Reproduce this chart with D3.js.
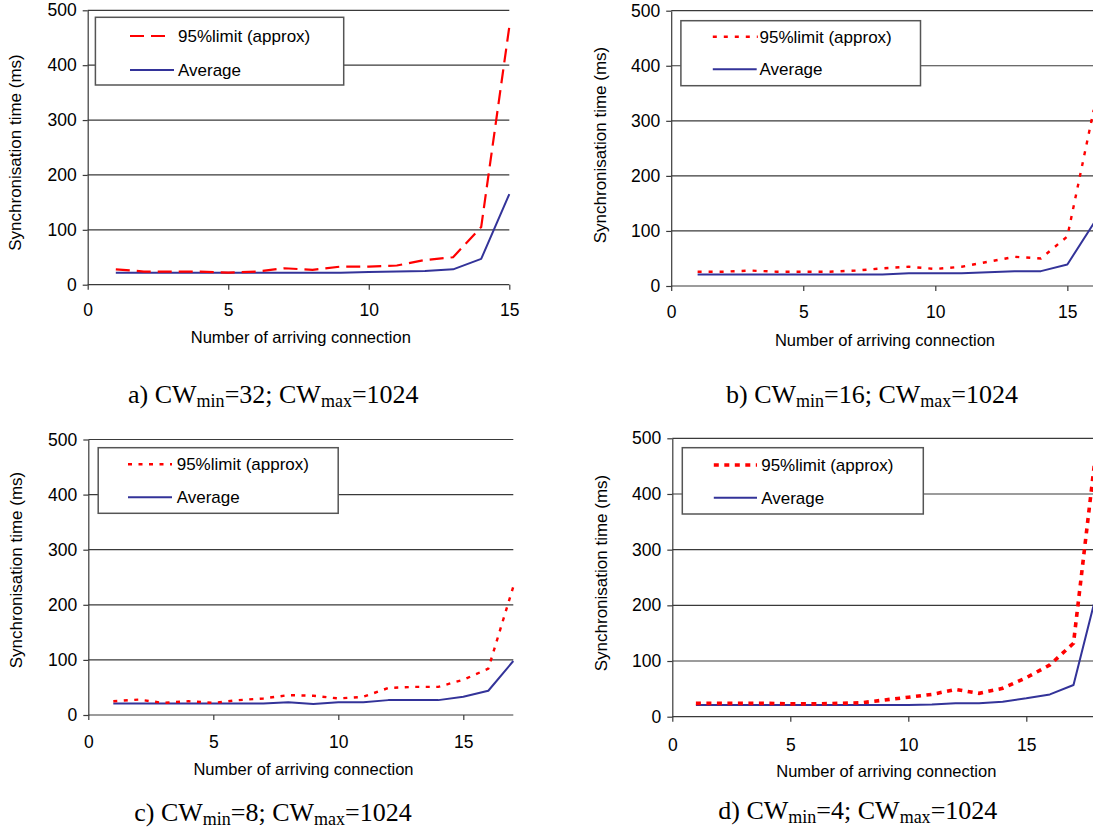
<!DOCTYPE html>
<html>
<head>
<meta charset="utf-8">
<script src="https://cdn.jsdelivr.net/npm/d3@7/dist/d3.min.js"></script>
<style>
  body { margin: 0; background: #fff; }
  svg { display: block; }
  .sans { font-family: 'Liberation Sans', Arial, sans-serif; fill: #000; }
  .caption { font-family: 'Liberation Serif', 'Times New Roman', serif; fill: #000; }
</style>
</head>
<body>
<svg id="chart" width="1093" height="830"></svg>
<script>
// number of arriving connection (x) per panel
const connA = [1, 2, 3, 4, 5, 6, 7, 8, 9, 10, 11, 12, 13, 14, 15];
const connB = [1, 2, 3, 4, 5, 6, 7, 8, 9, 10, 11, 12, 13, 14, 15, 16];
const connC = [1, 2, 3, 4, 5, 6, 7, 8, 9, 10, 11, 12, 13, 14, 15, 16, 17];
const connD = [1, 2, 3, 4, 5, 6, 7, 8, 9, 10, 11, 12, 13, 14, 15, 16, 17, 18];

// synchronisation time (ms)
const limitA = [28, 24, 24, 24, 22, 24, 30, 27, 33, 33, 35, 45, 50, 105, 470];
const avgA   = [22, 22, 22, 22, 22, 22, 22, 22, 22, 23, 24, 25, 28, 47, 165];
const limitB = [26, 26, 28, 26, 26, 26, 28, 32, 35, 31, 35, 44, 53, 50, 90, 320];
const avgB   = [21, 21, 21, 21, 21, 21, 21, 21, 23, 23, 23, 25, 27, 27, 39, 114];
const limitC = [25, 28, 22, 25, 22, 27, 30, 36, 35, 30, 33, 49, 51, 51, 64, 84, 233];
const avgC   = [21, 21, 21, 21, 21, 21, 21, 23, 20, 23, 23, 27, 27, 27, 33, 44, 98];
const limitD = [24, 24, 24, 24, 23, 23, 24, 25, 30, 35, 40, 49, 42, 51, 70, 93, 132, 495];
const avgD   = [21, 21, 21, 21, 21, 21, 21, 21, 21, 21, 22, 24, 24, 27, 33, 40, 57, 225];

const yTicks = [0, 100, 200, 300, 400, 500];
const xTicks = [0, 5, 10, 15];
const seriesNames = ['95%limit (approx)', 'Average'];
const captionLabels = ['a)', 'b)', 'c)', 'd)'];
const cwMin = [32, 16, 8, 4];
const cwMax = [1024, 1024, 1024, 1024];

const WIDTH = 1093;
const RED = '#ff0000';
const BLUE = '#333399';
const GRID = '#3a3a3a';

const panels = [
  { conn: connA, limit: limitA, avg: avgA, xMax: 15, x0: 87.7, x1: 509.3, y0: 284.7, y1: 10.3,
    dash: '14,7', dashW: 2.2,
    legend: { x: 95.4, y: 17.3, w: 248.3, h: 67.7, lx0: 130, lx1: 169, bx1: 174, tx: 178, r1: 36, r2: 70 },
    yTitle: [21, 152.5], xTitle: [300.8, 343.3], tickPad: 14, caption: [273.3, 403] },
  { conn: connB, limit: limitB, avg: avgB, xMax: 20, x0: 671.2, x1: 1199.4, y0: 286, y1: 10.7,
    dash: '4,7', dashW: 2.4,
    legend: { x: 680.9, y: 20.7, w: 239.6, h: 65, lx0: 712.8, lx1: 757.8, bx1: 756.7, tx: 759.5, r1: 36.7, r2: 69.3 },
    yTitle: [606, 145], xTitle: [885, 346], tickPad: 15, caption: [872, 403] },
  { conn: connC, limit: limitC, avg: avgC, xMax: 17, x0: 88.3, x1: 513.3, y0: 715, y1: 439.5,
    dash: '4,6.5', dashW: 2.4,
    legend: { x: 98.2, y: 447.7, w: 240, h: 65.6, lx0: 128, lx1: 172, bx1: 172, tx: 176.7, r1: 464.3, r2: 497.3 },
    yTitle: [22, 570], xTitle: [303.5, 774.7], tickPad: 15.5, caption: [273, 820.7] },
  { conn: connD, limit: limitD, avg: avgD, xMax: 20, x0: 672.3, x1: 1144.3, y0: 716.7, y1: 438.3,
    dash: '5,5.5', dashW: 3.6,
    legend: { x: 682.3, y: 447.7, w: 241, h: 66.3, lx0: 713.8, lx1: 757, bx1: 757, tx: 761.2, r1: 465, r2: 497.7 },
    yTitle: [607, 573], xTitle: [886.3, 777.3], tickPad: 16.5, caption: [857.8, 819] }
];

const svg = d3.select('#chart');

function drawPanel(p, i) {
  const x = d3.scaleLinear().domain([0, p.xMax]).range([p.x0, p.x1]);
  const y = d3.scaleLinear().domain([0, 500]).range([p.y0, p.y1]);
  const right = Math.min(p.x1, WIDTH);
  const g = svg.append('g');

  // horizontal gridlines
  g.selectAll('line.grid')
    .data(yTicks.slice(1))
    .enter()
    .append('line')
    .attr('x1', x(0))
    .attr('x2', right)
    .attr('y1', d => y(d))
    .attr('y2', d => y(d))
    .attr('stroke', GRID)
    .attr('stroke-width', 1.2);

  const yAxis = g.append('g')
    .attr('transform', `translate(${x(0)},0)`)
    .call(d3.axisLeft(y).tickValues(yTicks).tickSize(5).tickPadding(6).tickSizeOuter(0));

  // x axis line only up to the visible edge; ticks that fall off the page are skipped
  g.append('line')
    .attr('x1', x(0)).attr('x2', right)
    .attr('y1', y(0)).attr('y2', y(0))
    .attr('stroke', GRID).attr('stroke-width', 1.2);

  const xAxis = g.append('g')
    .attr('transform', `translate(0,${y(0)})`)
    .call(d3.axisBottom(x).tickValues(xTicks.filter(t => x(t) <= WIDTH)).tickSize(5)
      .tickPadding(p.tickPad).tickSizeOuter(0));
  xAxis.select('.domain').remove();

  [yAxis, xAxis].forEach(ax => {
    ax.attr('font-family', null).attr('font-size', null);
    ax.selectAll('path, line').attr('stroke', GRID).attr('stroke-width', 1.2);
    ax.selectAll('text').attr('class', 'sans').style('font-size', '17.5px');
  });

  // legend box
  const lg = p.legend;
  g.append('rect')
    .attr('x', lg.x).attr('y', lg.y)
    .attr('width', lg.w).attr('height', lg.h)
    .attr('fill', '#fff')
    .attr('stroke', '#555')
    .attr('stroke-width', 1.5);

  g.append('line')
    .attr('x1', lg.lx0).attr('x2', lg.lx1)
    .attr('y1', lg.r1).attr('y2', lg.r1)
    .attr('stroke', RED).attr('stroke-width', p.dashW)
    .attr('stroke-dasharray', p.dash);

  g.append('line')
    .attr('x1', lg.lx0).attr('x2', lg.bx1)
    .attr('y1', lg.r2).attr('y2', lg.r2)
    .attr('stroke', BLUE).attr('stroke-width', 2);

  g.selectAll('text.legend-text')
    .data(seriesNames)
    .enter()
    .append('text')
    .attr('class', 'sans')
    .attr('x', lg.tx)
    .attr('y', (d, k) => (k === 0 ? lg.r1 : lg.r2))
    .attr('dy', '0.35em')
    .style('font-size', '17px')
    .text(d => d);

  // data lines
  const line = d3.line()
    .x(d => x(d[0]))
    .y(d => y(d[1]));

  g.append('path')
    .datum(p.conn.map((c, k) => [c, p.avg[k]]))
    .attr('d', line)
    .attr('fill', 'none')
    .attr('stroke', BLUE)
    .attr('stroke-width', 2)
    .attr('stroke-linejoin', 'round');

  g.append('path')
    .datum(p.conn.map((c, k) => [c, p.limit[k]]))
    .attr('d', line)
    .attr('fill', 'none')
    .attr('stroke', RED)
    .attr('stroke-width', p.dashW)
    .attr('stroke-dasharray', p.dash);

  // axis titles
  g.append('text')
    .attr('class', 'sans')
    .attr('transform', `translate(${p.yTitle[0]},${p.yTitle[1]}) rotate(-90)`)
    .attr('text-anchor', 'middle')
    .style('font-size', '17px')
    .text('Synchronisation time  (ms)');

  g.append('text')
    .attr('class', 'sans')
    .attr('x', p.xTitle[0])
    .attr('y', p.xTitle[1])
    .attr('text-anchor', 'middle')
    .style('font-size', '16.5px')
    .text('Number of arriving connection');

  // caption with subscripts
  const cap = g.append('text')
    .attr('class', 'caption')
    .attr('x', p.caption[0])
    .attr('y', p.caption[1])
    .attr('text-anchor', 'middle')
    .style('font-size', '26px');
  cap.append('tspan').text(`${captionLabels[i]} CW`);
  cap.append('tspan').attr('dy', 4).style('font-size', '18px').text('min');
  cap.append('tspan').attr('dy', -4).text(`=${cwMin[i]}; CW`);
  cap.append('tspan').attr('dy', 4).style('font-size', '18px').text('max');
  cap.append('tspan').attr('dy', -4).text(`=${cwMax[i]}`);
}

panels.forEach(drawPanel);
</script>
</body>
</html>
